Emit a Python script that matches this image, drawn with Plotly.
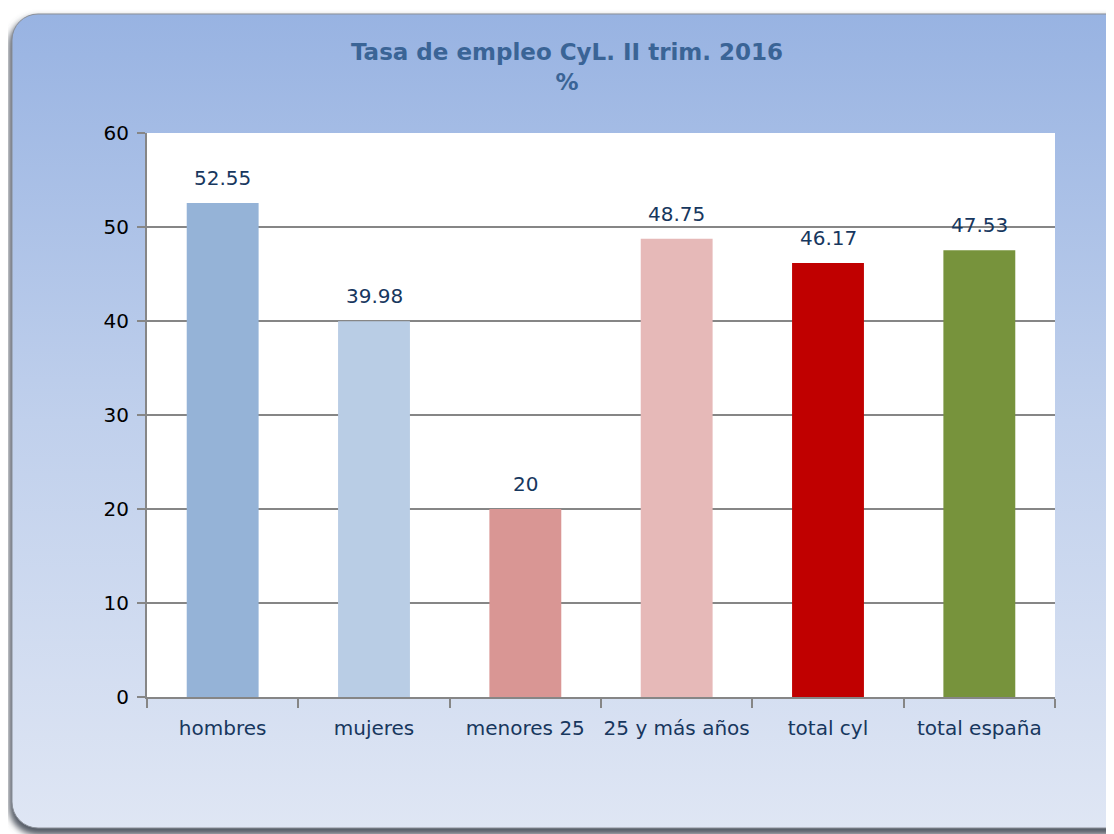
import base64
import plotly.graph_objects as go

categories = ["hombres", "mujeres", "menores 25", "25 y más años", "total cyl", "total españa"]
values = [52.55, 39.98, 20, 48.75, 46.17, 47.53]
labels = ["52.55", "39.98", "20", "48.75", "46.17", "47.53"]
colors = ["#95B3D7", "#B9CDE5", "#D99694", "#E6B9B8", "#C00000", "#77933C"]
y_ticks = [0, 10, 20, 30, 40, 50, 60]

OFF = 8  # page body margin
W, H = 1114 - OFF, 834 - OFF
L, R, T, B = 147 - OFF, 1055 - OFF, 133 - OFF, 697 - OFF
PW, PH = R - L, B - T

FONT = "DejaVu Sans"
TXT = "#17375E"

# background frame (rounded, gradient) as inline SVG, in figure pixel coords
fx0, fy0, fy1 = 8 - OFF, 14 - OFF, 832 - OFF
fw = W + 80
svg = f'''<svg xmlns="http://www.w3.org/2000/svg" width="{W}" height="{H}" viewBox="0 0 {W} {H}">
<defs>
<linearGradient id="g" x1="0" y1="0" x2="0" y2="1">
<stop offset="0" stop-color="#98B3E2"/>
<stop offset="0.5" stop-color="#C0D0EC"/>
<stop offset="1" stop-color="#DFE6F4"/>
</linearGradient>
<filter id="s" x="-5%" y="-5%" width="110%" height="110%"><feGaussianBlur stdDeviation="3"/></filter>
</defs>
<rect x="{fx0+1}" y="{fy0+3}" width="{fw}" height="{fy1-fy0}" rx="28" ry="28" fill="#555b66" filter="url(#s)"/>
<rect x="{fx0+4}" y="{fy0}" width="{fw}" height="{fy1-fy0-4}" rx="26" ry="26" fill="url(#g)" stroke="#8a8f98" stroke-width="1"/>
</svg>'''
src = "data:image/svg+xml;base64," + base64.b64encode(svg.encode()).decode()

fig = go.Figure()
fig.add_trace(go.Bar(
    x=categories, y=values, marker=dict(color=colors, line=dict(width=0)),
    hoverinfo="skip", showlegend=False,
))

for c, v, t in zip(categories, values, labels):
    fig.add_annotation(x=c, y=v, text=t, showarrow=False, yanchor="bottom",
                       yshift=11, font=dict(family=FONT, size=20, color=TXT))

fig.add_layout_image(dict(
    source=src, xref="paper", yref="paper",
    x=(0 - L) / PW, y=1 + T / PH, sizex=W / PW, sizey=H / PH,
    xanchor="left", yanchor="top", sizing="stretch", layer="below",
))
fig.add_shape(type="rect", xref="paper", yref="paper", x0=0, x1=1, y0=0, y1=1,
              fillcolor="white", line=dict(width=0), layer="below")

fig.update_layout(
    width=W, height=H,
    margin=dict(l=L, r=W - R, t=T, b=H - B, pad=0),
    paper_bgcolor="white", plot_bgcolor="white",
    bargap=0.525,
    title=dict(text="<b>Tasa de empleo CyL. II trim. 2016<br>%</b>",
               x=(567 - OFF) / W, xanchor="center", xref="container",
               y=1 - (60 - OFF) / H, yanchor="top", yref="container",
               font=dict(family=FONT, size=23, color="#3A6496")),
    font=dict(family=FONT),
)
fig.update_xaxes(
    type="category", showline=True, linecolor="#868686", linewidth=2,
    ticks="outside", tickson="boundaries", ticklen=9, tickwidth=2, tickcolor="#868686",
    ticklabelstandoff=12, tickangle=0,
    tickfont=dict(family=FONT, size=20, color=TXT), showgrid=False,
)
fig.update_yaxes(
    range=[0, 60], tickvals=y_ticks, showline=True, linecolor="#868686", linewidth=2,
    ticks="outside", ticklen=8, tickwidth=2, tickcolor="#868686", ticklabelstandoff=4,
    showgrid=True, gridcolor="#868686", gridwidth=1.5, zeroline=False,
    tickfont=dict(family=FONT, size=20, color="black"),
)

fig.write_html("out.html")
